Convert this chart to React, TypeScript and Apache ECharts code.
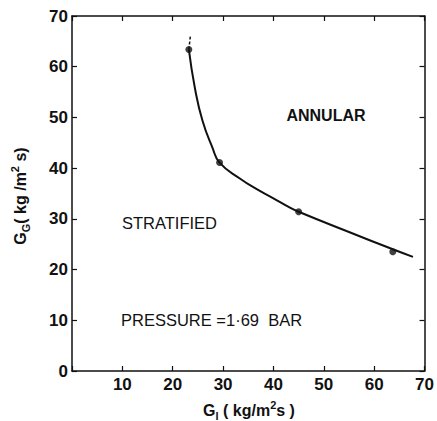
import React, { useEffect, useRef } from "react";
import * as echarts from "echarts";

// Transition boundary curve (traced)
const curveGl = [23.2, 24.4, 25.9, 27.9, 29.3, 33.4, 36.6, 39.9, 43.1, 45.0, 54.5, 63.7, 67.7];
const curveGg = [63.4, 55.8, 49.4, 44.0, 41.1, 37.9, 35.9, 34.1, 32.3, 31.4, 27.6, 24.0, 22.5];
// Short dashed extension above the top point
const extGl = [23.2, 23.5];
const extGg = [63.4, 66.0];
// Measured points
const pointGl = [23.2, 29.3, 45.0, 63.7];
const pointGg = [63.4, 41.1, 31.4, 23.5];
// Axis ticks
const xTickLabels = ["", "10", "20", "30", "40", "50", "60", "70"];
const yTickLabels = ["0", "10", "20", "30", "40", "50", "60", "70"];

const FONT = "Liberation Sans";
const INK = "#111";

export default function App() {
  const ref = useRef<HTMLDivElement>(null);
  useEffect(() => {
    if (!ref.current) return;
    const chart = echarts.init(ref.current, null, { renderer: "svg" });
    const axisCommon = {
      type: "value" as const,
      min: 0,
      max: 70,
      interval: 10,
      splitLine: { show: false },
      axisLine: { show: true, onZero: false, lineStyle: { color: INK, width: 1.5 } },
      axisTick: { show: true, inside: true, length: 5, lineStyle: { color: INK, width: 1.2 } },
    };
    const rich = {
      m: { fontFamily: FONT, fontWeight: "bold", fontSize: 16, lineHeight: 22, fill: INK },
      s: { fontFamily: FONT, fontWeight: "bold", fontSize: 11, lineHeight: 11, verticalAlign: "bottom", fill: INK },
      p: { fontFamily: FONT, fontWeight: "bold", fontSize: 11, lineHeight: 11, verticalAlign: "top", fill: INK },
    };
    chart.setOption({
      animation: false,
      backgroundColor: "#fff",
      grid: { left: 72, right: 6, top: 16, bottom: 50 },
      xAxis: [
        {
          ...axisCommon,
          position: "bottom",
          axisLabel: {
            show: true,
            margin: 5,
            color: INK,
            fontFamily: FONT,
            fontWeight: "bold",
            fontSize: 17,
            formatter: (v: number) => xTickLabels[Math.round(v / 10)] ?? "",
          },
        },
        { ...axisCommon, position: "top", axisLabel: { show: false } },
      ],
      yAxis: [
        {
          ...axisCommon,
          position: "left",
          axisLabel: {
            show: true,
            margin: 4,
            color: INK,
            fontFamily: FONT,
            fontWeight: "bold",
            fontSize: 17,
            formatter: (v: number) => yTickLabels[Math.round(v / 10)] ?? "",
          },
        },
        { ...axisCommon, position: "right", axisLabel: { show: false } },
      ],
      series: [
        {
          type: "line",
          data: curveGl.map((x, i) => [x, curveGg[i]]),
          smooth: 0.5,
          showSymbol: false,
          lineStyle: { color: INK, width: 2 },
          silent: true,
        },
        {
          type: "line",
          data: extGl.map((x, i) => [x, extGg[i]]),
          showSymbol: false,
          lineStyle: { color: INK, width: 1.5, type: [3, 2] },
          silent: true,
        },
        {
          type: "scatter",
          data: pointGl.map((x, i) => [x, pointGg[i]]),
          symbol: "circle",
          symbolSize: 7,
          itemStyle: { color: INK },
          silent: true,
        },
      ],
      graphic: [
        {
          type: "text",
          x: 249,
          y: 410,
          style: {
            text: "{m|G}{s|l}{m| ( kg/m}{p|2}{m|s )}",
            align: "center",
            verticalAlign: "middle",
            fill: INK,
            rich,
          },
        },
        {
          type: "text",
          x: 20,
          y: 196,
          rotation: Math.PI / 2,
          style: {
            text: "{m|G}{s|G}{m|( kg /m}{p|2}{m| s)}",
            align: "center",
            verticalAlign: "middle",
            fill: INK,
            rich,
          },
        },
        {
          type: "text",
          x: 326,
          y: 115,
          style: {
            text: "ANNULAR",
            align: "center",
            verticalAlign: "middle",
            fontFamily: FONT,
            fontWeight: "bold",
            fontSize: 16,
            fill: INK,
          },
        },
        {
          type: "text",
          x: 122,
          y: 223,
          style: {
            text: "STRATIFIED",
            align: "left",
            verticalAlign: "middle",
            fontFamily: FONT,
            fontSize: 16.5,
            fill: INK,
          },
        },
        {
          type: "text",
          x: 121,
          y: 320,
          style: {
            text: "PRESSURE =1·69  BAR",
            align: "left",
            verticalAlign: "middle",
            fontFamily: FONT,
            fontSize: 16.5,
            fill: INK,
          },
        },
      ],
    });
    return () => chart.dispose();
  }, []);
  return <div ref={ref} style={{ position: "absolute", left: 0, top: 0, width: 437, height: 421 }} />;
}
